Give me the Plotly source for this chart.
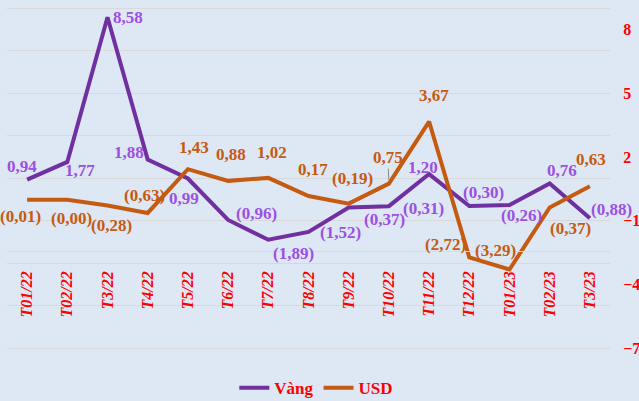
import plotly.graph_objects as go

categories = ["T01/22", "T02/22", "T3/22", "T4/22", "T5/22", "T6/22", "T7/22", "T8/22",
              "T9/22", "T10/22", "T11/22", "T12/22", "T01/23", "T02/23", "T3/23"]
vang = [0.94, 1.77, 8.58, 1.88, 0.99, -0.96, -1.89, -1.52, -0.37, -0.31, 1.20, -0.30, -0.26, 0.76, -0.88]
usd = [-0.01, -0.004, -0.28, -0.63, 1.43, 0.88, 1.02, 0.17, -0.19, 0.75, 3.67, -2.72, -3.29, -0.37, 0.63]
right_ticks = [-7, -4, -1, 2, 5, 8]
grid_ticks = [-7, -5, -3, -1, 1, 3, 5, 7, 9]

# label offsets in pixels (dx right, dy down) - styling only
vang_off = [(-5, -13), (13, 9), (20, 0), (-19, -7), (-4, 20), (28, -6), (25, 14), (32, 1),
            (36, 12), (35, 2), (-6, -7), (14, -13), (12, 10), (12, -13), (22, -9)]
usd_off = [(-7, 17), (4, 19), (4, 20), (-3, -17), (6, -22), (3, -26), (4, -25), (4, -26),
           (4, -25), (-1, -26), (5, -26), (-24, -13), (-14, -19), (21, 21), (1, -27)]
leader_idx = 9  # USD label with leader line

BG = "#dde8f4"
GRID = "#d9d9d9"
PURPLE = "#7030a0"
ORANGE = "#c55a11"
PURPLE_LBL = "#9d4fe3"
RED = "#ff0000"
FONT = "Liberation Serif"
YMIN, YMAX = -7.5, 9.2
AXIS_CROSS = -2.41


def fmt(v):
    s = f"{abs(v):.2f}".replace(".", ",")
    return f"({s})" if v < 0 else s


fig = go.Figure()
fig.add_trace(go.Scatter(x=categories, y=vang, name="Vàng", mode="lines",
                         line=dict(color=PURPLE, width=4)))
fig.add_trace(go.Scatter(x=categories, y=usd, name="USD", mode="lines",
                         line=dict(color=ORANGE, width=4)))
# invisible trace to activate right axis
fig.add_trace(go.Scatter(x=categories, y=usd, yaxis="y2", mode="lines",
                         line=dict(width=0), showlegend=False, hoverinfo="skip"))

annotations = []
for series, offs, col in ((vang, vang_off, PURPLE_LBL), (usd, usd_off, ORANGE)):
    for i, (c, v) in enumerate(zip(categories, series)):
        dx, dy = offs[i]
        if series is usd and i == leader_idx:
            annotations.append(dict(x=c, y=v, xref="x", yref="y", text=fmt(v),
                                    showarrow=True, ax=dx, ay=dy, arrowhead=0,
                                    arrowwidth=1, arrowcolor="#8c8c8c", standoff=4,
                                    font=dict(family=FONT, size=17, color=col, weight="bold")))
        else:
            annotations.append(dict(x=c, y=v, xref="x", yref="y", text=fmt(v),
                                    showarrow=False, xshift=dx, yshift=-dy,
                                    font=dict(family=FONT, size=17, color=col, weight="bold")))

fig.update_layout(
    width=639, height=401,
    margin=dict(l=7, r=29, t=4, b=42, autoexpand=False),
    paper_bgcolor=BG, plot_bgcolor=BG,
    showlegend=True,
    legend=dict(orientation="h", xref="container", yref="container", x=0.495, y=0.032,
                xanchor="center", yanchor="middle", bgcolor="rgba(0,0,0,0)",
                font=dict(family=FONT, size=17, color=RED, weight="bold"),
                itemwidth=30, tracegroupgap=0),
    xaxis=dict(type="category", range=[-0.5, len(categories) - 0.5], anchor="free",
               position=(AXIS_CROSS - YMIN) / (YMAX - YMIN), automargin=False,
               showline=True, linecolor=GRID, linewidth=1, showgrid=False,
               tickangle=-90, ticks="outside", ticklen=13, tickcolor="rgba(0,0,0,0)",
               tickfont=dict(family=FONT, size=16, color=RED, weight="bold", style="italic")),
    yaxis=dict(range=[YMIN, YMAX], tickvals=grid_ticks, showticklabels=False, automargin=False,
               gridcolor=GRID, gridwidth=1, zeroline=False, showline=False),
    yaxis2=dict(range=[YMIN, YMAX], overlaying="y", side="right", tickvals=right_ticks,
                showgrid=False, zeroline=False, showline=False, automargin=False,
                ticks="outside", ticklen=9, tickcolor="rgba(0,0,0,0)",
                tickfont=dict(family=FONT, size=16, color=RED, weight="bold")),
    annotations=annotations,
    hovermode=False,
)

fig.write_html("out.html", config={"displayModeBar": False},
               post_script="document.body.style.margin='0';document.body.style.background='" + BG + "';")
